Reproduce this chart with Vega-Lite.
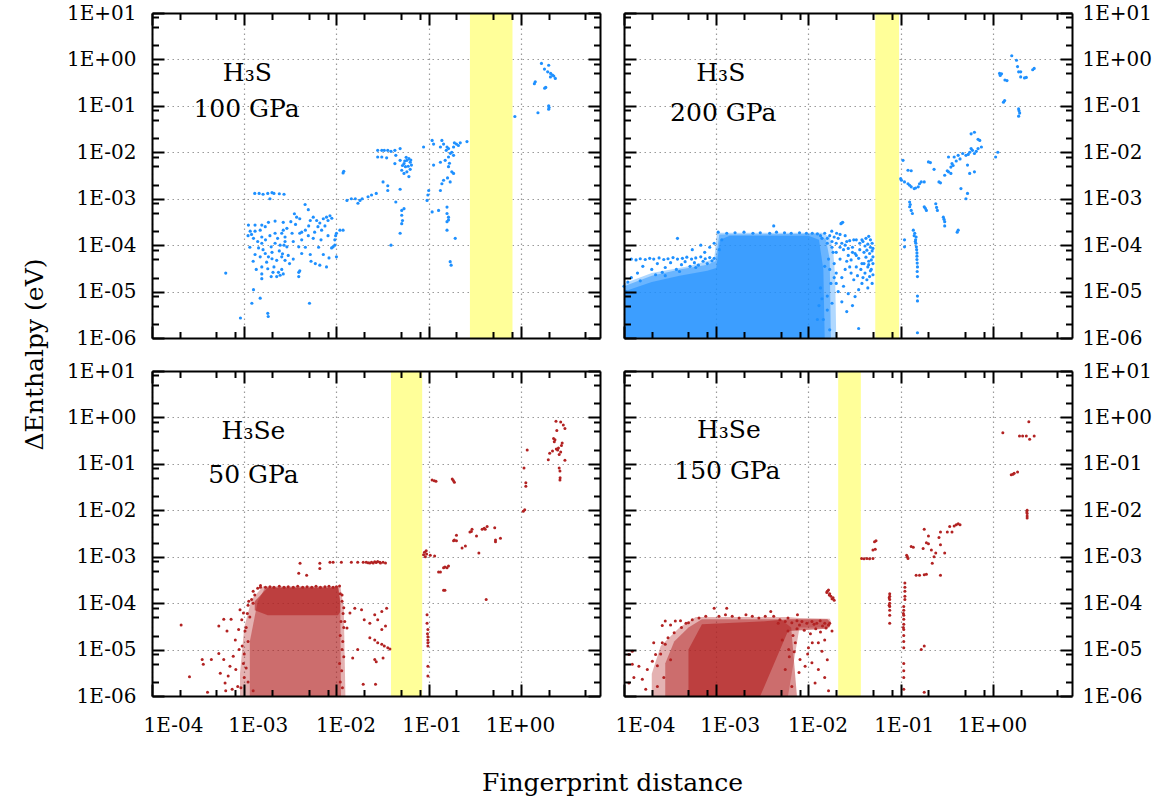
{
"$schema":"https://vega.github.io/schema/vega-lite/v6.json",
"background":"white",
"padding":{"left":22,"top":3,"right":5,"bottom":5},
"config":{"view":{"stroke":null},"axis":{"domainColor":"#000","domainWidth":2,"tickColor":"#000","tickWidth":2,"labelFont":"DejaVu Serif","labelFontSize":20,"labelColor":"#000","titleFont":"DejaVu Serif","titleFontSize":25,"titleFontWeight":"normal","titleColor":"#000","labelFlush":false,"labelOverlap":false,"gridColor":"#9a9a9a","gridDash":[1.5,3.5],"gridWidth":1.2}},
"datasets":{
"tl":[{"x":6.3e-4,"y":2.5e-5},{"x":9.1e-4,"y":2.7e-6},{"x":1.21e-3,"y":5.6e-6},{"x":1.26e-3,"y":1.1e-5},{"x":1.49e-3,"y":7.2e-6},{"x":1.8e-3,"y":3.4e-6},{"x":1.82e-3,"y":2.9e-6},{"x":5.1e-3,"y":5.6e-6},
{"x":1.3e-3,"y":1.3e-3},{"x":1.45e-3,"y":1.3e-3},{"x":1.6e-3,"y":1.25e-3},{"x":1.8e-3,"y":1.3e-3},{"x":2.0e-3,"y":1.35e-3},{"x":2.1e-3,"y":1.3e-3},{"x":2.4e-3,"y":1.28e-3},{"x":2.7e-3,"y":1.25e-3},{"x":1.9e-3,"y":1.0e-3},
{"x":4.57e-3,"y":7.5e-4},{"x":4.95e-3,"y":5.8e-4},{"x":3.5e-3,"y":4.75e-4},{"x":3.7e-3,"y":4.0e-4},{"x":4.0e-3,"y":3.7e-4},{"x":5.2e-3,"y":3.4e-4},{"x":5.6e-3,"y":4.0e-4},{"x":6.1e-3,"y":3.4e-4},{"x":6.6e-3,"y":3.0e-4},{"x":7.2e-3,"y":3.7e-4},{"x":7.8e-3,"y":4.0e-4},{"x":8.1e-3,"y":3.4e-4},{"x":6.9e-3,"y":2.1e-4},{"x":6.3e-3,"y":2.5e-4},{"x":4.6e-3,"y":2.1e-4},{"x":4.2e-3,"y":1.9e-4},{"x":3.3e-3,"y":1.8e-4},{"x":2.65e-3,"y":3.1e-4},{"x":2.65e-3,"y":2.1e-4},{"x":2.16e-3,"y":3.3e-4},{"x":1.83e-3,"y":3.1e-4},{"x":1.55e-3,"y":2.7e-4},{"x":1.31e-3,"y":2.7e-4},{"x":1.11e-3,"y":2.7e-4},{"x":1.16e-3,"y":2.0e-4},{"x":1.31e-3,"y":2.0e-4},{"x":1.49e-3,"y":2.1e-4},{"x":1.69e-3,"y":2.5e-4},{"x":1.26e-3,"y":1.4e-4},{"x":1.55e-3,"y":1.5e-4},{"x":2.16e-3,"y":1.8e-4},{"x":2.55e-3,"y":1.8e-4},{"x":2.77e-3,"y":1.5e-4},{"x":1.55e-3,"y":1.1e-4},{"x":1.96e-3,"y":9.2e-5},{"x":2.16e-3,"y":1.1e-4},{"x":2.45e-3,"y":1.0e-4},{"x":2.77e-3,"y":1.2e-4},{"x":2.9e-3,"y":9.2e-5},{"x":1.43e-3,"y":8.7e-5},{"x":1.6e-3,"y":8.0e-5},{"x":1.69e-3,"y":6.6e-5},{"x":1.31e-3,"y":6.3e-5},{"x":1.49e-3,"y":5.6e-5},{"x":1.83e-3,"y":5.6e-5},{"x":2.0e-3,"y":5.1e-5},{"x":2.25e-3,"y":4.7e-5},{"x":2.55e-3,"y":5.6e-5},{"x":2.77e-3,"y":4.7e-5},{"x":3.1e-3,"y":4.0e-5},{"x":1.55e-3,"y":3.4e-5},{"x":1.8e-3,"y":3.1e-5},{"x":2.1e-3,"y":3.4e-5},{"x":2.35e-3,"y":2.6e-5},{"x":2.45e-3,"y":2.25e-5},{"x":2.25e-3,"y":2.1e-5},{"x":2.65e-3,"y":2.4e-5},{"x":1.55e-3,"y":2.4e-5},{"x":1.96e-3,"y":2.1e-5},{"x":1.55e-3,"y":1.9e-5},{"x":4.0e-3,"y":1.8e-4},{"x":4.2e-3,"y":1.3e-4},{"x":3.9e-3,"y":9.2e-5},{"x":3.4e-3,"y":1.2e-4},{"x":4.95e-3,"y":1.6e-4},{"x":5.6e-3,"y":1.4e-4},{"x":4.2e-3,"y":6.6e-5},{"x":5.2e-3,"y":6.3e-5},{"x":7.2e-3,"y":6.3e-5},{"x":5.9e-3,"y":4.0e-5},{"x":6.6e-3,"y":3.7e-5},{"x":7.8e-3,"y":3.4e-5},{"x":8.1e-3,"y":1.6e-4},{"x":8.85e-3,"y":8.7e-5},{"x":9.2e-3,"y":9.2e-5},{"x":9.6e-3,"y":1e-4},{"x":1.0e-2,"y":5.6e-5},{"x":1.0e-2,"y":1.8e-4},{"x":1.09e-2,"y":2.1e-4},{"x":1.18e-2,"y":2.1e-4},{"x":9.6e-3,"y":1.3e-4},{"x":3.9e-3,"y":2.6e-5},{"x":3.9e-3,"y":2.1e-5},{"x":4.0e-3,"y":2.8e-5},
{"x":1.2e-3,"y":1.7e-4},{"x":1.4e-3,"y":1.2e-4},{"x":1.7e-3,"y":1.3e-4},{"x":1.9e-3,"y":1.6e-4},{"x":2.3e-3,"y":1.4e-4},{"x":2.0e-3,"y":7e-5},{"x":2.4e-3,"y":7.5e-5},{"x":2.6e-3,"y":6.5e-5},{"x":3.0e-3,"y":6.0e-5},{"x":1.15e-3,"y":9e-5},{"x":1.25e-3,"y":4.5e-5},{"x":3.6e-3,"y":2.8e-4},{"x":3.2e-3,"y":3.2e-4},{"x":5.0e-3,"y":2.6e-4},{"x":5.8e-3,"y":1.9e-4},{"x":6.8e-3,"y":1.3e-4},{"x":7.5e-3,"y":2.6e-4},{"x":8.5e-3,"y":4.3e-4},{"x":8.9e-3,"y":3.8e-4},{"x":6.4e-3,"y":9e-5},{"x":4.6e-3,"y":9e-5},{"x":5.3e-3,"y":4.5e-5},{"x":3.4e-3,"y":5e-5},{"x":1.1e-3,"y":1.6e-4},{"x":2.9e-3,"y":2.3e-4},{"x":1.35e-3,"y":3.0e-5},{"x":1.75e-3,"y":4.3e-5},{"x":2.05e-3,"y":2.6e-5},{"x":2.55e-3,"y":3.0e-5},{"x":2.7e-3,"y":1.0e-4},{"x":8.3e-3,"y":5.3e-5},{"x":9.8e-3,"y":1.6e-4},
{"x":1.18e-2,"y":3.6e-3},{"x":1.2e-2,"y":3.9e-3},{"x":1.3e-2,"y":9.2e-4},{"x":1.45e-2,"y":1e-3},{"x":1.6e-2,"y":1e-3},{"x":1.71e-2,"y":8e-4},{"x":1.8e-2,"y":9.2e-4},{"x":1.9e-2,"y":1e-3},{"x":2.2e-2,"y":1.1e-3},{"x":2.4e-2,"y":1.2e-3},{"x":2.7e-2,"y":1.3e-3},
{"x":2.8e-2,"y":1.1e-2},{"x":3.1e-2,"y":1.1e-2},{"x":3.3e-2,"y":1.1e-2},{"x":3.6e-2,"y":1.1e-2},{"x":3.9e-2,"y":1.05e-2},{"x":4.3e-2,"y":1.1e-2},{"x":2.8e-2,"y":7.9e-3},{"x":3.1e-2,"y":7.9e-3},{"x":3.5e-2,"y":7.6e-3},{"x":4.4e-2,"y":8.6e-3},{"x":4.3e-2,"y":5.7e-3},{"x":3.2e-2,"y":2.3e-3},{"x":3.6e-2,"y":1.9e-3},{"x":3.6e-2,"y":1.5e-3},{"x":4.4e-2,"y":8.5e-4},{"x":3.9e-2,"y":1e-4},
{"x":4.9e-2,"y":1.2e-2},{"x":4.9e-2,"y":6.7e-3},{"x":5.1e-2,"y":4.1e-3},{"x":5.4e-2,"y":5.7e-3},{"x":5.8e-2,"y":6.7e-3},{"x":6.1e-2,"y":7.3e-3},{"x":6.3e-2,"y":6.1e-3},{"x":6.5e-2,"y":5.3e-3},{"x":5.6e-2,"y":4.9e-3},{"x":5.8e-2,"y":3.8e-3},{"x":5.4e-2,"y":3.5e-3},{"x":6.1e-2,"y":3e-3},{"x":6.3e-2,"y":4.3e-3},{"x":4.9e-2,"y":1.6e-3},{"x":5.1e-2,"y":5.6e-4},{"x":5.1e-2,"y":4.4e-4},{"x":5.2e-2,"y":3.4e-4},{"x":5.1e-2,"y":2.9e-4},{"x":4.9e-2,"y":1.8e-4},{"x":5.4e-2,"y":6.1e-4},{"x":5.5e-2,"y":6.5e-3},{"x":6.0e-2,"y":5.0e-3},{"x":5.2e-2,"y":5.2e-3},{"x":6.4e-2,"y":6.8e-3},{"x":5.7e-2,"y":7.8e-3},
{"x":8.8e-2,"y":1.3e-2},{"x":0.109,"y":1.8e-2},{"x":0.113,"y":1.5e-2},{"x":0.139,"y":1.8e-2},{"x":0.145,"y":1.5e-2},{"x":0.134,"y":1.3e-2},{"x":0.158,"y":1.3e-2},{"x":0.164,"y":1.2e-2},{"x":0.178,"y":1e-2},{"x":0.186,"y":1.3e-2},{"x":0.2,"y":1.5e-2},{"x":0.21,"y":1.4e-2},{"x":0.26,"y":1.7e-2},{"x":0.186,"y":8.6e-3},{"x":0.164,"y":7.9e-3},{"x":0.151,"y":6.7e-3},{"x":0.134,"y":6.1e-3},{"x":0.113,"y":5.3e-3},{"x":0.164,"y":4.9e-3},{"x":0.178,"y":3.8e-3},{"x":0.186,"y":3.5e-3},{"x":0.145,"y":2.5e-3},{"x":0.171,"y":2.3e-3},{"x":0.139,"y":2.1e-3},{"x":0.134,"y":1.5e-3},{"x":0.1,"y":1.5e-3},{"x":9.6e-2,"y":9.2e-4},{"x":0.109,"y":5.2e-4},{"x":0.128,"y":5.6e-4},{"x":0.158,"y":6.6e-4},{"x":0.158,"y":4.8e-4},{"x":0.164,"y":4e-4},{"x":0.158,"y":3.2e-4},{"x":0.164,"y":3.5e-4},{"x":0.158,"y":2.1e-4},{"x":0.194,"y":1.4e-4},{"x":0.171,"y":4.4e-5},{"x":0.175,"y":3.7e-5},{"x":0.172,"y":9.5e-3},{"x":0.155,"y":1.1e-2},{"x":0.19,"y":1.6e-2},{"x":0.22,"y":1.6e-2},{"x":0.168,"y":5.8e-3},{"x":0.098,"y":1.2e-3},{"x":0.16,"y":2.8e-3},
{"x":0.86,"y":0.059},{"x":1.43,"y":0.33},{"x":1.4,"y":0.3},{"x":1.67,"y":0.82},{"x":1.81,"y":0.24},{"x":1.86,"y":0.25},{"x":1.95,"y":0.54},{"x":2.0,"y":0.75},{"x":2.09,"y":0.42},{"x":2.2,"y":0.46},{"x":2.36,"y":0.39},{"x":2.27,"y":0.44},{"x":2.0,"y":0.1},{"x":2.0,"y":0.085},{"x":2.02,"y":0.092},{"x":1.53,"y":0.071},{"x":1.8,"y":0.62},{"x":2.1,"y":0.5}],
"tr":[{"x":0.1,"y":2.7e-3},{"x":0.102,"y":2.5e-3},{"x":0.11,"y":2.3e-3},{"x":0.12,"y":2.1e-3},{"x":0.13,"y":1.8e-3},{"x":0.14,"y":1.65e-3},{"x":0.155,"y":1.8e-3},{"x":0.16,"y":2.1e-3},{"x":0.167,"y":2.3e-3},{"x":0.18,"y":2.3e-3},{"x":0.125,"y":1.95e-3},{"x":0.145,"y":1.7e-3},
{"x":0.106,"y":6.7e-3},{"x":0.12,"y":4.1e-3},{"x":0.13,"y":4e-3},
{"x":0.125,"y":8.5e-4},{"x":0.125,"y":6.7e-4},{"x":0.13,"y":5.6e-4},{"x":0.134,"y":4.8e-4},{"x":0.127,"y":7.5e-4},{"x":0.18,"y":6.7e-4},{"x":0.19,"y":5.6e-4},{"x":0.185,"y":6.2e-4},{"x":0.24,"y":7.8e-4},{"x":0.25,"y":5.6e-4},{"x":0.245,"y":6.5e-4},{"x":0.29,"y":4e-4},{"x":0.3,"y":3.2e-4},{"x":0.3,"y":2.6e-4},{"x":0.295,"y":3.6e-4},{"x":0.42,"y":2.1e-4},{"x":0.41,"y":1.9e-4},
{"x":0.137,"y":2.1e-4},{"x":0.142,"y":1.8e-4},{"x":0.145,"y":1.3e-4},{"x":0.148,"y":9.2e-5},{"x":0.15,"y":6.8e-5},{"x":0.15,"y":4.9e-5},{"x":0.152,"y":3.4e-5},{"x":0.152,"y":2.1e-5},{"x":0.152,"y":8e-6},{"x":0.152,"y":6.3e-6},{"x":0.152,"y":1.3e-6},{"x":0.11,"y":1.3e-4},{"x":0.11,"y":9.2e-5},{"x":0.14,"y":1.6e-4},{"x":0.146,"y":1.1e-4},{"x":0.149,"y":8e-5},{"x":0.15,"y":5.8e-5},{"x":0.151,"y":4.1e-5},{"x":0.147,"y":1.5e-4},{"x":0.144,"y":1.2e-4},{"x":0.151,"y":2.7e-5},
{"x":0.2,"y":6.2e-3},{"x":0.21,"y":6.0e-3},{"x":0.26,"y":2.3e-3},{"x":0.27,"y":2.2e-3},{"x":0.32,"y":4e-3},{"x":0.35,"y":4.8e-3},{"x":0.36,"y":5.7e-3},{"x":0.33,"y":7.9e-3},{"x":0.38,"y":7.9e-3},{"x":0.42,"y":8.6e-3},{"x":0.47,"y":9.4e-3},{"x":0.51,"y":8.6e-3},{"x":0.56,"y":1e-2},{"x":0.58,"y":1.2e-2},{"x":0.63,"y":9.4e-3},{"x":0.69,"y":1.2e-2},{"x":0.75,"y":1.3e-2},{"x":0.58,"y":2.5e-2},{"x":0.63,"y":2.7e-2},{"x":0.69,"y":1.9e-2},{"x":0.72,"y":1.8e-2},{"x":0.53,"y":5.3e-3},{"x":0.56,"y":3.5e-3},{"x":0.63,"y":3.8e-3},{"x":0.45,"y":1.65e-3},{"x":0.53,"y":1.3e-3},{"x":0.51,"y":1e-3},{"x":1.07,"y":7.9e-3},{"x":1.13,"y":1e-2},{"x":0.35,"y":3.5e-3},{"x":0.33,"y":3.8e-3},{"x":0.37,"y":5.2e-3},{"x":0.4,"y":6.5e-3},{"x":0.44,"y":7.2e-3},{"x":0.54,"y":9e-3},{"x":0.6,"y":1.1e-2},{"x":0.66,"y":1.05e-2},{"x":0.3,"y":3.2e-3},{"x":0.23,"y":4.3e-3},
{"x":1.34,"y":0.13},{"x":1.3,"y":0.12},{"x":1.18,"y":0.5},{"x":1.24,"y":0.49},{"x":1.35,"y":0.36},{"x":1.42,"y":0.35},{"x":1.6,"y":1.2},{"x":1.8,"y":0.96},{"x":1.85,"y":0.7},{"x":1.9,"y":0.54},{"x":2.0,"y":0.54},{"x":2.0,"y":0.42},{"x":2.3,"y":0.41},{"x":2.7,"y":0.6},{"x":2.8,"y":0.64},{"x":1.9,"y":0.086},{"x":1.95,"y":0.07},{"x":1.9,"y":0.06},{"x":1.92,"y":0.078},{"x":2.2,"y":0.4},{"x":1.2,"y":0.45},
{"x":0.0229,"y":3.0e-4},{"x":0.0225,"y":2.9e-4},{"x":0.0235,"y":3.1e-4},{"x":0.0179,"y":2e-4},{"x":0.0202,"y":1.8e-4},{"x":0.022,"y":1.7e-4},{"x":0.025,"y":1.6e-4},{"x":0.026,"y":1.2e-4},{"x":0.028,"y":1.25e-4},{"x":0.031,"y":1.3e-4},{"x":0.033,"y":1.3e-4},{"x":0.036,"y":1.1e-4},{"x":0.038,"y":1.3e-4},{"x":0.039,"y":1.2e-4},{"x":0.041,"y":9.6e-5},{"x":0.043,"y":7.8e-5},{"x":0.046,"y":6.6e-5},{"x":0.048,"y":4.8e-5},{"x":0.05,"y":5.6e-5},{"x":0.044,"y":3.4e-5},{"x":0.041,"y":2.5e-5},{"x":0.043,"y":1.8e-5},{"x":0.046,"y":2.1e-5},{"x":0.05,"y":2.3e-5},{"x":0.038,"y":1.5e-5},{"x":0.035,"y":1.1e-5},{"x":0.032,"y":7.8e-6},{"x":0.035,"y":5.2e-5},{"x":0.032,"y":6.6e-5},{"x":0.029,"y":4.8e-5},{"x":0.028,"y":3.4e-5},{"x":0.033,"y":3.4e-5},{"x":0.038,"y":4e-5},{"x":0.026,"y":3.7e-6},{"x":0.035,"y":1.6e-6},{"x":0.017,"y":1.5e-6},{"x":0.02,"y":1.5e-5},{"x":0.018,"y":5.6e-6},{"x":0.021,"y":1e-5},{"x":0.047,"y":9e-5},{"x":0.049,"y":7.5e-5},{"x":0.05,"y":4e-5},{"x":0.045,"y":4.5e-5},{"x":0.04,"y":7e-5},{"x":0.03,"y":9e-5},{"x":0.027,"y":6e-5},{"x":0.024,"y":8e-5},{"x":0.023,"y":1.1e-4},{"x":0.021,"y":1.4e-4},{"x":0.019,"y":1.5e-4},{"x":0.044,"y":1.05e-4},{"x":0.048,"y":3e-5},{"x":0.039,"y":2e-5},
{"x":0.015,"y":1.8e-4},{"x":0.016,"y":1.4e-4},{"x":0.018,"y":1.2e-4},{"x":0.02,"y":1.1e-4},{"x":0.022,"y":9e-5},{"x":0.025,"y":1e-4},{"x":0.027,"y":8.5e-5},{"x":0.03,"y":7e-5},{"x":0.033,"y":6e-5},{"x":0.036,"y":8e-5},{"x":0.042,"y":5.5e-5},{"x":0.045,"y":3.8e-5},{"x":0.047,"y":2.8e-5},{"x":0.049,"y":1.5e-5},{"x":0.044,"y":1.2e-5},{"x":0.04,"y":4e-5},{"x":0.037,"y":3e-5},{"x":0.034,"y":2.2e-5},{"x":0.031,"y":1.8e-5},{"x":0.029,"y":2.5e-5},{"x":0.026,"y":4.5e-5},{"x":0.022,"y":5e-5},{"x":0.02,"y":7e-5},{"x":0.018,"y":9e-5},{"x":0.017,"y":3e-5},{"x":0.019,"y":2e-5},{"x":0.024,"y":1.3e-5},{"x":0.027,"y":9e-6},{"x":0.03,"y":5e-6},{"x":0.023,"y":6e-6},{"x":0.016,"y":4e-6},{"x":0.045,"y":1.55e-4},{"x":0.047,"y":1.3e-4},{"x":0.049,"y":1.1e-4},{"x":0.05,"y":8.5e-5},{"x":0.042,"y":1.4e-4},
{"x":0.013,"y":5e-6},{"x":0.0145,"y":2.5e-6},{"x":0.016,"y":8e-6},{"x":0.0175,"y":1.5e-5},{"x":0.019,"y":4e-5},{"x":0.0185,"y":7e-5},{"x":0.016,"y":1.1e-4},{"x":0.017,"y":1.6e-4},{"x":0.02,"y":2.5e-5},{"x":0.023,"y":2e-5},{"x":0.025,"y":3e-5},{"x":0.0135,"y":1.2e-5},{"x":0.015,"y":3.5e-5},{"x":0.0165,"y":5e-5},{"x":0.0125,"y":2.5e-6},{"x":0.014,"y":7e-6},
{"x":1.05e-3,"y":1.9e-4},{"x":1.3e-3,"y":1.8e-4},{"x":1.6e-3,"y":1.85e-4},{"x":2e-3,"y":1.9e-4},{"x":2.5e-3,"y":1.8e-4},{"x":3e-3,"y":1.85e-4},{"x":3.8e-3,"y":1.8e-4},{"x":4.5e-3,"y":1.9e-4},{"x":5.5e-3,"y":1.85e-4},{"x":6.5e-3,"y":1.8e-4},{"x":8e-3,"y":1.85e-4},{"x":9.5e-3,"y":1.8e-4},{"x":1.1e-2,"y":1.8e-4},{"x":1.25e-2,"y":1.75e-4},{"x":1.35e-2,"y":1.6e-4},{"x":1.4e-2,"y":1.4e-4},{"x":1.15e-3,"y":1.3e-4},{"x":1.08e-3,"y":8e-5},
{"x":1e-4,"y":1.3e-5},{"x":1.05e-4,"y":1.0e-5},{"x":1.1e-4,"y":1.6e-5},{"x":1.5e-4,"y":1.7e-5},{"x":2.2e-4,"y":2.3e-5},{"x":2.8e-4,"y":2.2e-5},{"x":4e-4,"y":2.7e-5},{"x":6e-4,"y":3.3e-5},
{"x":1.2e-4,"y":5.0e-5},{"x":1.35e-4,"y":4.8e-5},{"x":1.5e-4,"y":5.1e-5},{"x":1.7e-4,"y":4.9e-5},{"x":1.9e-4,"y":5.2e-5},{"x":2.1e-4,"y":5.0e-5},{"x":2.4e-4,"y":5.3e-5},{"x":2.7e-4,"y":4.9e-5},{"x":3.0e-4,"y":5.1e-5},{"x":3.4e-4,"y":5.4e-5},{"x":3.8e-4,"y":5.0e-5},{"x":4.3e-4,"y":5.2e-5},{"x":4.8e-4,"y":5.5e-5},{"x":5.4e-4,"y":5.0e-5},{"x":6e-4,"y":5.3e-5},{"x":6.8e-4,"y":5.6e-5},{"x":7.6e-4,"y":5.1e-5},{"x":8.5e-4,"y":5.4e-5},{"x":9.5e-4,"y":5.2e-5},
{"x":1.6e-4,"y":3.5e-5},{"x":2.0e-4,"y":3.0e-5},{"x":2.3e-4,"y":4e-5},{"x":2.8e-4,"y":3.3e-5},{"x":3.2e-4,"y":4.2e-5},{"x":3.7e-4,"y":3.0e-5},{"x":4.2e-4,"y":3.8e-5},{"x":4.6e-4,"y":4.4e-5},{"x":5.2e-4,"y":3.5e-5},{"x":5.8e-4,"y":4.2e-5},{"x":6.4e-4,"y":3.7e-5},{"x":7.2e-4,"y":4.5e-5},{"x":8e-4,"y":4.0e-5},{"x":9e-4,"y":4.6e-5},{"x":1.4e-4,"y":2.5e-5},{"x":1.2e-4,"y":2.0e-5},{"x":2.6e-4,"y":2.6e-5},
{"x":3.8e-4,"y":1.4e-4},{"x":6.8e-4,"y":1e-4},{"x":4.2e-3,"y":2.6e-4},{"x":5.5e-4,"y":8e-5},{"x":8.5e-4,"y":9e-5},{"x":7.5e-4,"y":7e-5},{"x":9.5e-4,"y":1.1e-4}],
"trc":[{"g":"a","x":1e-4,"lo":1e-6,"hi":1.5e-5},{"g":"a","x":2e-4,"lo":1e-6,"hi":2.5e-5},{"g":"a","x":5e-4,"lo":1e-6,"hi":3.5e-5},{"g":"a","x":9.5e-4,"lo":1e-6,"hi":5e-5},{"g":"a","x":1.02e-3,"lo":1e-6,"hi":1.85e-4},{"g":"a","x":1.4e-2,"lo":1e-6,"hi":1.85e-4},{"g":"a","x":1.7e-2,"lo":1e-6,"hi":1.5e-4},{"g":"a","x":1.85e-2,"lo":1e-6,"hi":8e-5},{"g":"a","x":1.95e-2,"lo":1e-6,"hi":2e-5},{"g":"a","x":2e-2,"lo":1e-6,"hi":1e-6},
{"g":"b","x":1e-4,"lo":1e-6,"hi":1.3e-5},{"g":"b","x":2e-4,"lo":1e-6,"hi":2.2e-5},{"g":"b","x":4e-4,"lo":1e-6,"hi":3e-5},{"g":"b","x":8e-4,"lo":1e-6,"hi":3.8e-5},{"g":"b","x":9.8e-4,"lo":1e-6,"hi":4.5e-5},{"g":"b","x":1.08e-3,"lo":1e-6,"hi":1.7e-4},{"g":"b","x":1.3e-2,"lo":1e-6,"hi":1.75e-4},{"g":"b","x":1.55e-2,"lo":1e-6,"hi":1.3e-4},{"g":"b","x":1.7e-2,"lo":1e-6,"hi":5e-5},{"g":"b","x":1.75e-2,"lo":1e-6,"hi":1e-6},
{"g":"c","x":1e-4,"lo":1e-6,"hi":1e-5},{"g":"c","x":2e-4,"lo":1e-6,"hi":1.6e-5},{"g":"c","x":4e-4,"lo":1e-6,"hi":2.2e-5},{"g":"c","x":8e-4,"lo":1e-6,"hi":2.8e-5},{"g":"c","x":1e-3,"lo":1e-6,"hi":3.2e-5},{"g":"c","x":1.1e-3,"lo":1e-6,"hi":1.3e-4},{"g":"c","x":1.4e-3,"lo":1e-6,"hi":1.6e-4},{"g":"c","x":1e-2,"lo":1e-6,"hi":1.6e-4},{"g":"c","x":1.3e-2,"lo":1e-6,"hi":1.3e-4},{"g":"c","x":1.45e-2,"lo":1e-6,"hi":3e-5},{"g":"c","x":1.5e-2,"lo":1e-6,"hi":1e-6}],
"bl":[{"x":2.07e-4,"y":3.4e-5},{"x":2.55e-4,"y":2.6e-6},{"x":3.5e-4,"y":6.1e-6},{"x":4.4e-4,"y":6.1e-6},{"x":3.6e-4,"y":4.8e-6},{"x":5.3e-4,"y":3.2e-5},{"x":6e-4,"y":4.5e-5},{"x":7.2e-4,"y":4.5e-5},{"x":6.5e-4,"y":2.5e-5},{"x":5.3e-4,"y":8.2e-6},{"x":6e-4,"y":6.1e-6},{"x":5.5e-4,"y":3.1e-6},{"x":6.2e-4,"y":1.9e-6},{"x":6.7e-4,"y":2.7e-6},{"x":7e-4,"y":4.4e-6},{"x":7.6e-4,"y":7.2e-6},{"x":8e-4,"y":1.6e-5},{"x":8.7e-4,"y":2.7e-5},{"x":8.8e-4,"y":1e-5},{"x":8.1e-4,"y":3.7e-6},{"x":9e-4,"y":7.2e-5},{"x":9.4e-4,"y":4.4e-5},{"x":9.8e-4,"y":6.1e-5},{"x":4e-4,"y":1.2e-6},{"x":8.5e-4,"y":1.6e-6},{"x":7.4e-4,"y":1.4e-6},{"x":6.3e-4,"y":1.3e-6},
{"x":1.4e-2,"y":6.1e-5},{"x":1.58e-2,"y":7.8e-5},{"x":1.87e-2,"y":7.2e-5},{"x":2.0e-2,"y":4.4e-5},{"x":2.3e-2,"y":3.7e-5},{"x":2.6e-2,"y":5.6e-5},{"x":2.8e-2,"y":4.4e-5},{"x":3.1e-2,"y":6.6e-5},{"x":3.4e-2,"y":3.2e-5},{"x":3.5e-2,"y":7.8e-5},{"x":3.1e-2,"y":2.7e-5},{"x":2.3e-2,"y":1.8e-5},{"x":2.6e-2,"y":1.6e-5},{"x":2.8e-2,"y":1.4e-5},{"x":3.1e-2,"y":1.3e-5},{"x":3.3e-2,"y":1.2e-5},{"x":3.6e-2,"y":1.1e-5},{"x":3.8e-2,"y":1.03e-5},{"x":1.7e-2,"y":1e-5},{"x":1.5e-2,"y":6.6e-6},{"x":1.95e-2,"y":1.8e-6},{"x":2.65e-2,"y":1.8e-6},{"x":2.6e-2,"y":6.1e-6},{"x":2.7e-2,"y":5.5e-6},{"x":3.2e-2,"y":6.6e-6},{"x":1.23e-2,"y":4e-5},{"x":1.3e-2,"y":2.9e-5},
{"x":4.03e-3,"y":7.2e-4},{"x":6.6e-3,"y":7.2e-4},{"x":6.6e-3,"y":5.6e-4},{"x":3.9e-3,"y":4.4e-4},{"x":4.75e-3,"y":4.0e-4},{"x":8.5e-3,"y":7.6e-4},{"x":9.2e-3,"y":7.6e-4},{"x":1.13e-2,"y":7.6e-4},{"x":1.45e-2,"y":7.6e-4},{"x":1.7e-2,"y":7.6e-4},{"x":1.95e-2,"y":7.6e-4},{"x":2.1e-2,"y":7.6e-4},{"x":2.3e-2,"y":7.3e-4},{"x":2.5e-2,"y":7.3e-4},{"x":2.7e-2,"y":7.5e-4},{"x":2.95e-2,"y":7.6e-4},{"x":3.2e-2,"y":7.6e-4},{"x":3.4e-2,"y":7.3e-4},{"x":2.8e-2,"y":7.9e-4},{"x":2.2e-2,"y":7.4e-4},{"x":2.4e-2,"y":7.6e-4},{"x":2.6e-2,"y":7.8e-4},{"x":3.0e-2,"y":7.3e-4},
{"x":1.3e-3,"y":1.5e-4},{"x":1.2e-3,"y":1.2e-4},{"x":1.1e-3,"y":9e-5},{"x":1.15e-3,"y":5e-5},{"x":1.05e-3,"y":3e-5},{"x":1.1e-3,"y":1.5e-5},{"x":1.0e-3,"y":8e-6},{"x":1.05e-3,"y":4e-6},{"x":1.1e-3,"y":2e-6},{"x":1.25e-3,"y":1.3e-6},{"x":1.1e-2,"y":1.6e-4},{"x":1.15e-2,"y":1.1e-4},{"x":1.2e-2,"y":8e-5},{"x":1.12e-2,"y":4e-5},{"x":1.1e-2,"y":2e-5},{"x":1.15e-2,"y":1e-5},{"x":1.08e-2,"y":5e-6},{"x":1.1e-2,"y":2e-6},
{"x":1.02e-3,"y":2.5e-5},{"x":1.08e-3,"y":6e-5},{"x":1.12e-3,"y":1.1e-4},{"x":1.25e-3,"y":1.8e-4},{"x":1.4e-3,"y":2.1e-4},{"x":1.5e-3,"y":2.4e-4},{"x":9.5e-4,"y":1.2e-5},{"x":9.8e-4,"y":5e-6},{"x":1.0e-3,"y":2.5e-6},{"x":9.2e-4,"y":1.5e-6},{"x":1.15e-2,"y":1.5e-4},{"x":1.18e-2,"y":6e-5},{"x":1.2e-2,"y":3e-5},{"x":1.17e-2,"y":1.5e-5},{"x":1.2e-2,"y":7e-6},{"x":1.14e-2,"y":3.5e-6},{"x":1.16e-2,"y":1.5e-6},{"x":1.08e-2,"y":2.35e-4},{"x":1.5e-3,"y":2.2e-4},{"x":1.25e-3,"y":1e-4},
{"x":1.7e-3,"y":2.2e-4},{"x":1.9e-3,"y":2.25e-4},{"x":2.1e-3,"y":2.2e-4},{"x":2.4e-3,"y":2.3e-4},{"x":2.7e-3,"y":2.2e-4},{"x":3e-3,"y":2.25e-4},{"x":3.4e-3,"y":2.2e-4},{"x":3.8e-3,"y":2.3e-4},{"x":4.3e-3,"y":2.2e-4},{"x":4.8e-3,"y":2.25e-4},{"x":5.4e-3,"y":2.2e-4},{"x":6e-3,"y":2.3e-4},{"x":6.7e-3,"y":2.2e-4},{"x":7.5e-3,"y":2.25e-4},{"x":8.3e-3,"y":2.3e-4},{"x":9.2e-3,"y":2.2e-4},{"x":1.0e-2,"y":2.25e-4},
{"x":0.088,"y":1.1e-3},{"x":0.09,"y":1.25e-3},{"x":0.092,"y":1.0e-3},{"x":0.094,"y":1.35e-3},{"x":0.095,"y":1.15e-3},{"x":0.104,"y":1.08e-3},{"x":0.116,"y":1.03e-3},
{"x":0.096,"y":5.6e-5},{"x":0.096,"y":3.7e-5},{"x":0.098,"y":2.7e-5},{"x":0.098,"y":1.9e-5},{"x":0.098,"y":1.4e-5},{"x":0.098,"y":1.2e-5},{"x":0.098,"y":4.4e-6},{"x":0.098,"y":2.7e-6},{"x":0.097,"y":2.2e-5},{"x":0.098,"y":1.6e-5},
{"x":0.109,"y":0.045},{"x":0.12,"y":0.042},{"x":0.18,"y":0.047},{"x":0.19,"y":0.04},{"x":0.115,"y":0.043},{"x":0.185,"y":0.044},
{"x":0.186,"y":2.2e-3},{"x":0.2,"y":2.2e-3},{"x":0.2,"y":2.9e-3},{"x":0.23,"y":1.55e-3},{"x":0.25,"y":1.7e-3},{"x":0.28,"y":3.4e-3},{"x":0.295,"y":3.9e-3},{"x":0.33,"y":2.8e-3},{"x":0.38,"y":3.9e-3},{"x":0.41,"y":3.9e-3},{"x":0.43,"y":4.5e-3},{"x":0.52,"y":4.2e-3},{"x":0.53,"y":2.1e-3},{"x":0.6,"y":2.5e-3},{"x":0.35,"y":1.2e-3},{"x":0.29,"y":3.5e-3},{"x":0.4,"y":4.1e-3},{"x":0.19,"y":2.3e-3},{"x":0.53,"y":2.3e-3},
{"x":0.134,"y":4.7e-4},{"x":0.145,"y":5.8e-4},{"x":0.158,"y":5.8e-4},{"x":0.164,"y":6.3e-4},{"x":0.128,"y":4.7e-4},{"x":0.15,"y":6.0e-4},{"x":0.145,"y":1.9e-4},{"x":0.15,"y":1.9e-4},{"x":0.42,"y":1.2e-4},
{"x":1.06,"y":9.5e-3},{"x":1.1,"y":1.03e-2},{"x":1.13,"y":0.033},{"x":1.13,"y":0.039},{"x":1.08,"y":0.081},{"x":1.17,"y":0.2},
{"x":1.98,"y":0.122},{"x":2.05,"y":0.17},{"x":2.26,"y":0.35},{"x":2.34,"y":0.33},{"x":2.42,"y":0.21},{"x":2.5,"y":0.2},{"x":2.6,"y":0.16},{"x":2.7,"y":0.18},{"x":2.8,"y":0.28},{"x":3.0,"y":0.12},{"x":2.6,"y":0.081},{"x":2.65,"y":0.045},{"x":2.66,"y":0.05},{"x":2.4,"y":0.83},{"x":2.7,"y":0.8},{"x":2.88,"y":0.69},{"x":3.0,"y":0.58},{"x":2.45,"y":0.52},{"x":2.3,"y":0.3},{"x":2.55,"y":0.22},{"x":2.2,"y":0.19},{"x":2.75,"y":0.25},{"x":2.65,"y":0.07}],
"blc":[{"g":"a","x":9e-4,"lo":1e-6,"hi":3e-6},{"g":"a","x":1.0e-3,"lo":1e-6,"hi":3e-5},{"g":"a","x":1.2e-3,"lo":1e-6,"hi":1.2e-4},{"g":"a","x":1.6e-3,"lo":1e-6,"hi":2.3e-4},{"g":"a","x":1.1e-2,"lo":1e-6,"hi":2.3e-4},{"g":"a","x":1.2e-2,"lo":1e-6,"hi":8e-5},{"g":"a","x":1.25e-2,"lo":1e-6,"hi":1e-6},
{"g":"b","x":1.15e-3,"lo":1e-6,"hi":1.5e-5},{"g":"b","x":1.4e-3,"lo":1e-6,"hi":1.1e-4},{"g":"b","x":1.7e-3,"lo":1e-6,"hi":2.2e-4},{"g":"b","x":1.05e-2,"lo":1e-6,"hi":2.2e-4},{"g":"b","x":1.1e-2,"lo":1e-6,"hi":1e-4},{"g":"b","x":1.12e-2,"lo":1e-6,"hi":1e-6},
{"g":"c","x":1.3e-3,"lo":7e-5,"hi":1.1e-4},{"g":"c","x":1.8e-3,"lo":5.5e-5,"hi":2.15e-4},{"g":"c","x":1.04e-2,"lo":5.5e-5,"hi":2.15e-4},{"g":"c","x":1.1e-2,"lo":6.5e-5,"hi":1.1e-4}],
"br":[{"x":0.0165,"y":1.93e-4},{"x":0.016,"y":1.8e-4},{"x":0.017,"y":1.6e-4},{"x":0.0175,"y":1.4e-4},{"x":0.018,"y":1.25e-4},{"x":0.019,"y":1.15e-4},{"x":0.0185,"y":1.3e-4},{"x":0.0158,"y":1.7e-4},{"x":0.0168,"y":1.5e-4},
{"x":0.0377,"y":9.2e-4},{"x":0.04,"y":9e-4},{"x":0.043,"y":9.2e-4},{"x":0.046,"y":9.0e-4},{"x":0.05,"y":9.2e-4},{"x":0.052,"y":2.1e-3},{"x":0.054,"y":2.2e-3},{"x":0.05,"y":1.4e-3},{"x":0.053,"y":1.45e-3},
{"x":0.076,"y":1.6e-4},{"x":0.076,"y":1.4e-4},{"x":0.076,"y":1.2e-4},{"x":0.076,"y":1e-4},{"x":0.076,"y":8.5e-5},{"x":0.076,"y":7e-5},{"x":0.076,"y":5.5e-5},{"x":0.076,"y":3.7e-5},{"x":0.075,"y":1.3e-4},{"x":0.075,"y":9e-5},
{"x":0.111,"y":2.7e-4},{"x":0.111,"y":2.2e-4},{"x":0.111,"y":1.8e-4},{"x":0.111,"y":1.4e-4},{"x":0.111,"y":1.2e-4},{"x":0.108,"y":8.5e-5},{"x":0.108,"y":7e-5},{"x":0.108,"y":5.5e-5},{"x":0.108,"y":4.5e-5},{"x":0.108,"y":3.5e-5},{"x":0.108,"y":2.7e-5},{"x":0.108,"y":2e-5},{"x":0.108,"y":1.5e-5},{"x":0.108,"y":1.1e-5},{"x":0.108,"y":5e-6},{"x":0.108,"y":3.5e-6},{"x":0.108,"y":2.5e-6},{"x":0.108,"y":1.4e-6},{"x":0.107,"y":6e-5},{"x":0.107,"y":3e-5},
{"x":0.116,"y":1.08e-3},{"x":0.12,"y":9.2e-4},{"x":0.118,"y":1.0e-3},{"x":0.137,"y":1.6e-3},{"x":0.13,"y":1.65e-3},{"x":0.175,"y":1.5e-3},{"x":0.18,"y":3.9e-3},{"x":0.2,"y":2.8e-3},{"x":0.19,"y":2e-3},{"x":0.2,"y":1.9e-3},{"x":0.215,"y":1.4e-3},{"x":0.22,"y":7.2e-4},{"x":0.23,"y":1e-3},{"x":0.24,"y":1.2e-3},{"x":0.26,"y":2.6e-3},{"x":0.27,"y":1.8e-3},{"x":0.27,"y":3.4e-3},{"x":0.3,"y":1.2e-3},{"x":0.32,"y":3.4e-3},{"x":0.34,"y":4.5e-3},{"x":0.36,"y":3.4e-3},{"x":0.4,"y":4.9e-3},{"x":0.44,"y":4.9e-3},{"x":0.38,"y":4.6e-3},{"x":0.147,"y":4e-4},{"x":0.16,"y":4e-4},{"x":0.19,"y":4.2e-4},{"x":0.27,"y":4e-4},{"x":0.18,"y":4.1e-4},{"x":0.18,"y":1.2e-5},{"x":0.167,"y":1e-5},{"x":0.18,"y":1.2e-6},{"x":0.42,"y":5.1e-3},
{"x":1.28,"y":0.47},{"x":1.94,"y":0.4},{"x":2.1,"y":0.4},{"x":2.3,"y":0.4},{"x":2.5,"y":0.34},{"x":2.8,"y":0.4},{"x":2.45,"y":0.81},
{"x":1.58,"y":0.058},{"x":1.7,"y":0.063},{"x":1.85,"y":0.067},{"x":1.65,"y":0.06},
{"x":2.35,"y":1e-2},{"x":2.35,"y":8.5e-3},{"x":2.35,"y":7.5e-3},{"x":2.35,"y":6.8e-3},{"x":2.33,"y":9.2e-3},
{"x":4.7e-3,"y":3.7e-5},{"x":5.6e-3,"y":4.0e-5},{"x":6.6e-3,"y":3.8e-5},{"x":7.5e-3,"y":4.2e-5},{"x":8.5e-3,"y":4.0e-5},{"x":9.6e-3,"y":3.7e-5},{"x":1.09e-2,"y":4.0e-5},{"x":1.23e-2,"y":3.7e-5},{"x":1.34e-2,"y":4.2e-5},{"x":1.5e-2,"y":3.7e-5},{"x":1.65e-2,"y":3.4e-5},{"x":1.7e-2,"y":3.7e-5},{"x":1.8e-2,"y":2.5e-5},{"x":1.42e-2,"y":3.2e-5},{"x":1.15e-2,"y":3.5e-5},{"x":8e-3,"y":3.4e-5},
{"x":5.2e-3,"y":1.6e-5},{"x":6.1e-3,"y":1e-5},{"x":7.2e-3,"y":1.4e-5},{"x":8.1e-3,"y":6.1e-6},{"x":9.2e-3,"y":4.4e-6},{"x":1.09e-2,"y":5.2e-6},{"x":1.18e-2,"y":1.9e-6},{"x":1.4e-2,"y":9.2e-6},{"x":1.5e-2,"y":2.5e-6},{"x":1.65e-2,"y":1.3e-6},{"x":1.28e-2,"y":3.7e-6},{"x":1e-2,"y":1.1e-5},{"x":7.9e-3,"y":3.2e-6},{"x":5.6e-3,"y":3.7e-6},{"x":6.6e-3,"y":1.6e-6},{"x":1.28e-2,"y":1.4e-5},
{"x":2.5e-4,"y":8e-6},{"x":3e-4,"y":1.8e-5},{"x":3.5e-4,"y":2.3e-5},{"x":4.2e-4,"y":3e-5},{"x":5e-4,"y":3.8e-5},{"x":2.3e-4,"y":4.5e-6},{"x":2.7e-4,"y":2.5e-6},{"x":3.2e-4,"y":6e-6},{"x":6e-3,"y":2.5e-5},{"x":6.8e-3,"y":2e-5},{"x":7.5e-3,"y":2.8e-5},{"x":9e-3,"y":2.6e-5},{"x":1.05e-2,"y":2.2e-5},{"x":1.2e-2,"y":2.8e-5},{"x":1.35e-2,"y":2.4e-5},{"x":1.55e-2,"y":2.9e-5},{"x":6.2e-3,"y":7e-6},{"x":7e-3,"y":9e-6},{"x":9.8e-3,"y":8e-6},{"x":1.1e-2,"y":1.4e-5},{"x":1.5e-2,"y":1.6e-5},{"x":1.6e-2,"y":6e-6},
{"x":1.13e-4,"y":7.8e-6},{"x":1.23e-4,"y":4.8e-6},{"x":1.45e-4,"y":4.4e-6},{"x":1.28e-4,"y":2.5e-6},{"x":1.58e-4,"y":2.3e-6},{"x":1.79e-4,"y":3.7e-6},{"x":2.03e-4,"y":5.6e-6},{"x":2.2e-4,"y":7.8e-6},{"x":1.13e-4,"y":1.9e-6},{"x":1.72e-4,"y":1.4e-6},{"x":2.1e-4,"y":1.4e-5},{"x":2.6e-4,"y":1.4e-5},{"x":2.8e-4,"y":1.3e-5},{"x":2.3e-4,"y":1.6e-6},{"x":1.23e-4,"y":9.2e-6},
{"x":2.6e-4,"y":3.3e-5},{"x":2.8e-4,"y":4.1e-5},{"x":3.2e-4,"y":3.4e-5},{"x":3.6e-4,"y":4.1e-5},{"x":4.1e-4,"y":4.2e-5},{"x":4.7e-4,"y":3.7e-5},{"x":5.5e-4,"y":4.4e-5},{"x":6.5e-4,"y":4.8e-5},{"x":7.7e-4,"y":5.2e-5},{"x":9.5e-4,"y":7.8e-5},{"x":1.07e-3,"y":5.2e-5},{"x":1.26e-3,"y":5.6e-5},{"x":1.49e-3,"y":5.2e-5},{"x":1.77e-3,"y":4.8e-5},{"x":2.1e-3,"y":5.6e-5},{"x":2.46e-3,"y":5.2e-5},{"x":2.9e-3,"y":4.8e-5},{"x":3.4e-3,"y":5.2e-5},{"x":4.2e-3,"y":5.2e-5},{"x":4.9e-3,"y":4.4e-5},{"x":6e-3,"y":4.8e-5},{"x":7.6e-3,"y":5.6e-5},{"x":3.9e-3,"y":6.6e-5},{"x":1.3e-3,"y":7.8e-5}],
"brc":[{"g":"a","x":2e-4,"lo":1e-6,"hi":3e-6},{"g":"a","x":2.5e-4,"lo":1e-6,"hi":1.2e-5},{"g":"a","x":4e-4,"lo":1e-6,"hi":3e-5},{"g":"a","x":6e-4,"lo":1e-6,"hi":5e-5},{"g":"a","x":6e-3,"lo":1e-6,"hi":5e-5},{"g":"a","x":8e-3,"lo":3e-5,"hi":4.8e-5},{"g":"a","x":1.7e-2,"lo":3e-5,"hi":4.6e-5},{"g":"a","x":1.75e-2,"lo":3.5e-5,"hi":4e-5},
{"g":"b","x":2.8e-4,"lo":1e-6,"hi":5e-6},{"g":"b","x":3.5e-4,"lo":1e-6,"hi":1.5e-5},{"g":"b","x":5e-4,"lo":1e-6,"hi":3e-5},{"g":"b","x":7e-4,"lo":1e-6,"hi":4.5e-5},{"g":"b","x":5e-3,"lo":1e-6,"hi":4.5e-5},{"g":"b","x":6.5e-3,"lo":1e-6,"hi":3e-5},{"g":"b","x":7.5e-3,"lo":1e-6,"hi":1e-6},
{"g":"c","x":5e-4,"lo":1e-6,"hi":1e-5},{"g":"c","x":7e-4,"lo":1e-6,"hi":3.5e-5},{"g":"c","x":3e-3,"lo":1e-6,"hi":4e-5},{"g":"c","x":6e-3,"lo":2.5e-5,"hi":4.5e-5},{"g":"c","x":1.6e-2,"lo":2.8e-5,"hi":4.5e-5},{"g":"c","x":1.7e-2,"lo":3.2e-5,"hi":4e-5}]
},
"columns":2,
"spacing":{"row":33,"column":24},
"bounds":"flush",
"concat":[
{"width":448,"height":325,"resolve":{"axis":{"x":"independent","y":"independent"}},
"layer":[
{"data":{"values":[{"lo":0.28,"hi":0.81}]},"mark":{"type":"rect","color":"#ffff99"},
"encoding":{"x":{"field":"lo","type":"quantitative","scale":{"type":"log","domain":[0.0001,7.2],"nice":false},"axis":{"orient":"top","values":[0.0001,0.0002,0.0005,0.0008,0.001,0.002,0.005,0.008,0.01,0.02,0.05,0.08,0.1,0.2,0.5,0.8,1,2,5],"labels":false,"grid":false,"title":null,"zindex":1,"tickSize":{"condition":{"test":"abs(log(datum.value)/LN10-round(log(datum.value)/LN10))<0.01","value":-12},"value":-6.5}}},"x2":{"field":"hi"},
"y":{"datum":0.000001,"type":"quantitative","scale":{"type":"log","domain":[0.000001,10],"nice":false},"axis":{"orient":"right","values":[0.000001,0.000002,0.000005,0.000008,0.00001,0.00002,0.00005,0.00008,0.0001,0.0002,0.0005,0.0008,0.001,0.002,0.005,0.008,0.01,0.02,0.05,0.08,0.1,0.2,0.5,0.8,1,2,5,8,10],"labels":false,"grid":false,"title":null,"zindex":1,"tickSize":{"condition":{"test":"abs(log(datum.value)/LN10-round(log(datum.value)/LN10))<0.01","value":-12},"value":-6.5}}},"y2":{"datum":10}}},
{"data":{"name":"tl"},"mark":{"type":"circle","size":10,"opacity":1,"color":"#1e90ff"},
"encoding":{"x":{"field":"x","type":"quantitative","scale":{"type":"log","domain":[0.0001,7.2],"nice":false},"axis":{"orient":"bottom","values":[0.0001,0.0002,0.0005,0.0008,0.001,0.002,0.005,0.008,0.01,0.02,0.05,0.08,0.1,0.2,0.5,0.8,1,2,5],"labels":false,"grid":false,"title":null,"zindex":1,"tickSize":{"condition":{"test":"abs(log(datum.value)/LN10-round(log(datum.value)/LN10))<0.01","value":-12},"value":-6.5}}},
"y":{"field":"y","type":"quantitative","scale":{"type":"log","domain":[0.000001,10],"nice":false},"axis":{"orient":"left","values":[0.000001,0.000002,0.000005,0.000008,0.00001,0.00002,0.00005,0.00008,0.0001,0.0002,0.0005,0.0008,0.001,0.002,0.005,0.008,0.01,0.02,0.05,0.08,0.1,0.2,0.5,0.8,1,2,5,8,10],"grid":false,"zindex":1,"labelPadding":28,"labelExpr":"abs(log(datum.value)/LN10-round(log(datum.value)/LN10))<0.01 ? '1E'+(round(log(datum.value)/LN10)<0?'-':'+')+'0'+abs(round(log(datum.value)/LN10)) : ''","tickSize":{"condition":{"test":"abs(log(datum.value)/LN10-round(log(datum.value)/LN10))<0.01","value":-12},"value":-6.5},"title":"ΔEnthalpy (eV)","titleX":-118,"titleY":341,"titleAngle":-90,"titleAlign":"center","titleBaseline":"middle"}}}},
{"data":{"values":[{"x":1.08e-3,"y":0.51,"t":"H₃S"},{"x":1.06e-3,"y":0.0855,"t":"100 GPa"}]},"mark":{"type":"text","font":"DejaVu Serif","fontSize":25,"align":"center","baseline":"middle","color":"#000"},
"encoding":{"x":{"field":"x","type":"quantitative","scale":{"type":"log","domain":[0.0001,7.2],"nice":false},"axis":{"orient":"bottom","values":[0.0001,0.001,0.01,0.1,1],"grid":true,"domain":false,"ticks":false,"labels":false,"title":null,"zindex":0}},"y":{"field":"y","type":"quantitative","scale":{"type":"log","domain":[0.000001,10],"nice":false},"axis":{"orient":"left","values":[0.000001,0.00001,0.0001,0.001,0.01,0.1,1,10],"grid":true,"domain":false,"ticks":false,"labels":false,"title":null,"zindex":0}},"text":{"field":"t"}}}
]},
{"width":448,"height":325,"resolve":{"axis":{"x":"independent","y":"independent"}},
"layer":[
{"data":{"values":[{"lo":0.053,"hi":0.096}]},"mark":{"type":"rect","color":"#ffff99"},
"encoding":{"x":{"field":"lo","type":"quantitative","scale":{"type":"log","domain":[0.0001,7.2],"nice":false},"axis":{"orient":"top","values":[0.0001,0.0002,0.0005,0.0008,0.001,0.002,0.005,0.008,0.01,0.02,0.05,0.08,0.1,0.2,0.5,0.8,1,2,5],"labels":false,"grid":false,"title":null,"zindex":1,"tickSize":{"condition":{"test":"abs(log(datum.value)/LN10-round(log(datum.value)/LN10))<0.01","value":-12},"value":-6.5}}},"x2":{"field":"hi"},
"y":{"datum":0.000001,"type":"quantitative","scale":{"type":"log","domain":[0.000001,10],"nice":false},"axis":{"orient":"left","values":[0.000001,0.000002,0.000005,0.000008,0.00001,0.00002,0.00005,0.00008,0.0001,0.0002,0.0005,0.0008,0.001,0.002,0.005,0.008,0.01,0.02,0.05,0.08,0.1,0.2,0.5,0.8,1,2,5,8,10],"labels":false,"grid":false,"title":null,"zindex":1,"tickSize":{"condition":{"test":"abs(log(datum.value)/LN10-round(log(datum.value)/LN10))<0.01","value":-12},"value":-6.5}}},"y2":{"datum":10}}},
{"data":{"name":"trc"},"mark":{"type":"area","color":"#1e90ff"},
"encoding":{"x":{"field":"x","type":"quantitative","scale":{"type":"log","domain":[0.0001,7.2],"nice":false},"axis":null},"y":{"field":"hi","type":"quantitative","scale":{"type":"log","domain":[0.000001,10],"nice":false},"axis":null},"y2":{"field":"lo"},"opacity":{"field":"g","type":"ordinal","scale":{"domain":["a","b","c"],"range":[0.35,0.6,0.85]},"legend":null}}},
{"data":{"name":"tr"},"mark":{"type":"circle","size":10,"opacity":1,"color":"#1e90ff"},
"encoding":{"x":{"field":"x","type":"quantitative","scale":{"type":"log","domain":[0.0001,7.2],"nice":false},"axis":{"orient":"bottom","values":[0.0001,0.0002,0.0005,0.0008,0.001,0.002,0.005,0.008,0.01,0.02,0.05,0.08,0.1,0.2,0.5,0.8,1,2,5],"labels":false,"grid":false,"title":null,"zindex":1,"tickSize":{"condition":{"test":"abs(log(datum.value)/LN10-round(log(datum.value)/LN10))<0.01","value":-12},"value":-6.5}}},
"y":{"field":"y","type":"quantitative","scale":{"type":"log","domain":[0.000001,10],"nice":false},"axis":{"orient":"right","values":[0.000001,0.000002,0.000005,0.000008,0.00001,0.00002,0.00005,0.00008,0.0001,0.0002,0.0005,0.0008,0.001,0.002,0.005,0.008,0.01,0.02,0.05,0.08,0.1,0.2,0.5,0.8,1,2,5,8,10],"grid":false,"zindex":1,"title":null,"labelPadding":22,"labelExpr":"abs(log(datum.value)/LN10-round(log(datum.value)/LN10))<0.01 ? '1E'+(round(log(datum.value)/LN10)<0?'-':'+')+'0'+abs(round(log(datum.value)/LN10)) : ''","tickSize":{"condition":{"test":"abs(log(datum.value)/LN10-round(log(datum.value)/LN10))<0.01","value":-12},"value":-6.5}}}}},
{"data":{"values":[{"x":1.12e-3,"y":0.51,"t":"H₃S"},{"x":1.19e-3,"y":0.069,"t":"200 GPa"}]},"mark":{"type":"text","font":"DejaVu Serif","fontSize":25,"align":"center","baseline":"middle","color":"#000"},
"encoding":{"x":{"field":"x","type":"quantitative","scale":{"type":"log","domain":[0.0001,7.2],"nice":false},"axis":{"orient":"bottom","values":[0.0001,0.001,0.01,0.1,1],"grid":true,"domain":false,"ticks":false,"labels":false,"title":null,"zindex":0}},"y":{"field":"y","type":"quantitative","scale":{"type":"log","domain":[0.000001,10],"nice":false},"axis":{"orient":"left","values":[0.000001,0.00001,0.0001,0.001,0.01,0.1,1,10],"grid":true,"domain":false,"ticks":false,"labels":false,"title":null,"zindex":0}},"text":{"field":"t"}}}
]},
{"width":448,"height":325,"resolve":{"axis":{"x":"independent","y":"independent"}},
"layer":[
{"data":{"values":[{"lo":0.039,"hi":0.085}]},"mark":{"type":"rect","color":"#ffff99"},
"encoding":{"x":{"field":"lo","type":"quantitative","scale":{"type":"log","domain":[0.0001,7.2],"nice":false},"axis":{"orient":"top","values":[0.0001,0.0002,0.0005,0.0008,0.001,0.002,0.005,0.008,0.01,0.02,0.05,0.08,0.1,0.2,0.5,0.8,1,2,5],"labels":false,"grid":false,"title":null,"zindex":1,"tickSize":{"condition":{"test":"abs(log(datum.value)/LN10-round(log(datum.value)/LN10))<0.01","value":-12},"value":-6.5}}},"x2":{"field":"hi"},
"y":{"datum":0.000001,"type":"quantitative","scale":{"type":"log","domain":[0.000001,10],"nice":false},"axis":{"orient":"right","values":[0.000001,0.000002,0.000005,0.000008,0.00001,0.00002,0.00005,0.00008,0.0001,0.0002,0.0005,0.0008,0.001,0.002,0.005,0.008,0.01,0.02,0.05,0.08,0.1,0.2,0.5,0.8,1,2,5,8,10],"labels":false,"grid":false,"title":null,"zindex":1,"tickSize":{"condition":{"test":"abs(log(datum.value)/LN10-round(log(datum.value)/LN10))<0.01","value":-12},"value":-6.5}}},"y2":{"datum":10}}},
{"data":{"name":"blc"},"mark":{"type":"area","color":"#b22222"},
"encoding":{"x":{"field":"x","type":"quantitative","scale":{"type":"log","domain":[0.0001,7.2],"nice":false},"axis":null},"y":{"field":"hi","type":"quantitative","scale":{"type":"log","domain":[0.000001,10],"nice":false},"axis":null},"y2":{"field":"lo"},"opacity":{"field":"g","type":"ordinal","scale":{"domain":["a","b","c"],"range":[0.4,0.45,0.75]},"legend":null}}},
{"data":{"name":"bl"},"mark":{"type":"circle","size":9,"opacity":1,"color":"#b22222"},
"encoding":{"x":{"field":"x","type":"quantitative","scale":{"type":"log","domain":[0.0001,7.2],"nice":false},"axis":{"orient":"bottom","values":[0.0001,0.0002,0.0005,0.0008,0.001,0.002,0.005,0.008,0.01,0.02,0.05,0.08,0.1,0.2,0.5,0.8,1,2,5],"grid":false,"zindex":1,"labelPadding":31,"labelExpr":"abs(log(datum.value)/LN10-round(log(datum.value)/LN10))<0.01 ? '1E'+(round(log(datum.value)/LN10)<0?'-':'+')+'0'+abs(round(log(datum.value)/LN10)) : ''","labelOffset":{"condition":[{"test":"datum.value<0.0005","value":21},{"test":"datum.value<0.005","value":13.5},{"test":"datum.value<0.05","value":9},{"test":"datum.value<0.5","value":3}],"value":-1},"tickSize":{"condition":{"test":"abs(log(datum.value)/LN10-round(log(datum.value)/LN10))<0.01","value":-12},"value":-6.5},"title":"Fingerprint distance","titleX":460,"titleY":86,"titleAlign":"center","titleBaseline":"middle"}},
"y":{"field":"y","type":"quantitative","scale":{"type":"log","domain":[0.000001,10],"nice":false},"axis":{"orient":"left","values":[0.000001,0.000002,0.000005,0.000008,0.00001,0.00002,0.00005,0.00008,0.0001,0.0002,0.0005,0.0008,0.001,0.002,0.005,0.008,0.01,0.02,0.05,0.08,0.1,0.2,0.5,0.8,1,2,5,8,10],"grid":false,"zindex":1,"title":null,"labelPadding":28,"labelExpr":"abs(log(datum.value)/LN10-round(log(datum.value)/LN10))<0.01 ? '1E'+(round(log(datum.value)/LN10)<0?'-':'+')+'0'+abs(round(log(datum.value)/LN10)) : ''","tickSize":{"condition":{"test":"abs(log(datum.value)/LN10-round(log(datum.value)/LN10))<0.01","value":-12},"value":-6.5}}}}},
{"data":{"values":[{"x":1.26e-3,"y":0.51,"t":"H₃Se"},{"x":1.26e-3,"y":0.0575,"t":"50 GPa"}]},"mark":{"type":"text","font":"DejaVu Serif","fontSize":25,"align":"center","baseline":"middle","color":"#000"},
"encoding":{"x":{"field":"x","type":"quantitative","scale":{"type":"log","domain":[0.0001,7.2],"nice":false},"axis":{"orient":"bottom","values":[0.0001,0.001,0.01,0.1,1],"grid":true,"domain":false,"ticks":false,"labels":false,"title":null,"zindex":0}},"y":{"field":"y","type":"quantitative","scale":{"type":"log","domain":[0.000001,10],"nice":false},"axis":{"orient":"left","values":[0.000001,0.00001,0.0001,0.001,0.01,0.1,1,10],"grid":true,"domain":false,"ticks":false,"labels":false,"title":null,"zindex":0}},"text":{"field":"t"}}}
]},
{"width":448,"height":325,"resolve":{"axis":{"x":"independent","y":"independent"}},
"layer":[
{"data":{"values":[{"lo":0.021,"hi":0.037}]},"mark":{"type":"rect","color":"#ffff99"},
"encoding":{"x":{"field":"lo","type":"quantitative","scale":{"type":"log","domain":[0.0001,7.2],"nice":false},"axis":{"orient":"top","values":[0.0001,0.0002,0.0005,0.0008,0.001,0.002,0.005,0.008,0.01,0.02,0.05,0.08,0.1,0.2,0.5,0.8,1,2,5],"labels":false,"grid":false,"title":null,"zindex":1,"tickSize":{"condition":{"test":"abs(log(datum.value)/LN10-round(log(datum.value)/LN10))<0.01","value":-12},"value":-6.5}}},"x2":{"field":"hi"},
"y":{"datum":0.000001,"type":"quantitative","scale":{"type":"log","domain":[0.000001,10],"nice":false},"axis":{"orient":"left","values":[0.000001,0.000002,0.000005,0.000008,0.00001,0.00002,0.00005,0.00008,0.0001,0.0002,0.0005,0.0008,0.001,0.002,0.005,0.008,0.01,0.02,0.05,0.08,0.1,0.2,0.5,0.8,1,2,5,8,10],"labels":false,"grid":false,"title":null,"zindex":1,"tickSize":{"condition":{"test":"abs(log(datum.value)/LN10-round(log(datum.value)/LN10))<0.01","value":-12},"value":-6.5}}},"y2":{"datum":10}}},
{"data":{"name":"brc"},"mark":{"type":"area","color":"#b22222"},
"encoding":{"x":{"field":"x","type":"quantitative","scale":{"type":"log","domain":[0.0001,7.2],"nice":false},"axis":null},"y":{"field":"hi","type":"quantitative","scale":{"type":"log","domain":[0.000001,10],"nice":false},"axis":null},"y2":{"field":"lo"},"opacity":{"field":"g","type":"ordinal","scale":{"domain":["a","b","c"],"range":[0.4,0.45,0.7]},"legend":null}}},
{"data":{"name":"br"},"mark":{"type":"circle","size":9,"opacity":1,"color":"#b22222"},
"encoding":{"x":{"field":"x","type":"quantitative","scale":{"type":"log","domain":[0.0001,7.2],"nice":false},"axis":{"orient":"bottom","values":[0.0001,0.0002,0.0005,0.0008,0.001,0.002,0.005,0.008,0.01,0.02,0.05,0.08,0.1,0.2,0.5,0.8,1,2,5],"grid":false,"zindex":1,"title":null,"labelPadding":31,"labelExpr":"abs(log(datum.value)/LN10-round(log(datum.value)/LN10))<0.01 ? '1E'+(round(log(datum.value)/LN10)<0?'-':'+')+'0'+abs(round(log(datum.value)/LN10)) : ''","labelOffset":{"condition":[{"test":"datum.value<0.0005","value":21},{"test":"datum.value<0.005","value":13.5},{"test":"datum.value<0.05","value":9},{"test":"datum.value<0.5","value":3}],"value":-1},"tickSize":{"condition":{"test":"abs(log(datum.value)/LN10-round(log(datum.value)/LN10))<0.01","value":-12},"value":-6.5}}},
"y":{"field":"y","type":"quantitative","scale":{"type":"log","domain":[0.000001,10],"nice":false},"axis":{"orient":"right","values":[0.000001,0.000002,0.000005,0.000008,0.00001,0.00002,0.00005,0.00008,0.0001,0.0002,0.0005,0.0008,0.001,0.002,0.005,0.008,0.01,0.02,0.05,0.08,0.1,0.2,0.5,0.8,1,2,5,8,10],"grid":false,"zindex":1,"title":null,"labelPadding":22,"labelExpr":"abs(log(datum.value)/LN10-round(log(datum.value)/LN10))<0.01 ? '1E'+(round(log(datum.value)/LN10)<0?'-':'+')+'0'+abs(round(log(datum.value)/LN10)) : ''","tickSize":{"condition":{"test":"abs(log(datum.value)/LN10-round(log(datum.value)/LN10))<0.01","value":-12},"value":-6.5}}}}},
{"data":{"values":[{"x":1.37e-3,"y":0.537,"t":"H₃Se"},{"x":1.32e-3,"y":0.0708,"t":"150 GPa"}]},"mark":{"type":"text","font":"DejaVu Serif","fontSize":25,"align":"center","baseline":"middle","color":"#000"},
"encoding":{"x":{"field":"x","type":"quantitative","scale":{"type":"log","domain":[0.0001,7.2],"nice":false},"axis":{"orient":"bottom","values":[0.0001,0.001,0.01,0.1,1],"grid":true,"domain":false,"ticks":false,"labels":false,"title":null,"zindex":0}},"y":{"field":"y","type":"quantitative","scale":{"type":"log","domain":[0.000001,10],"nice":false},"axis":{"orient":"left","values":[0.000001,0.00001,0.0001,0.001,0.01,0.1,1,10],"grid":true,"domain":false,"ticks":false,"labels":false,"title":null,"zindex":0}},"text":{"field":"t"}}}
]}
]
}
